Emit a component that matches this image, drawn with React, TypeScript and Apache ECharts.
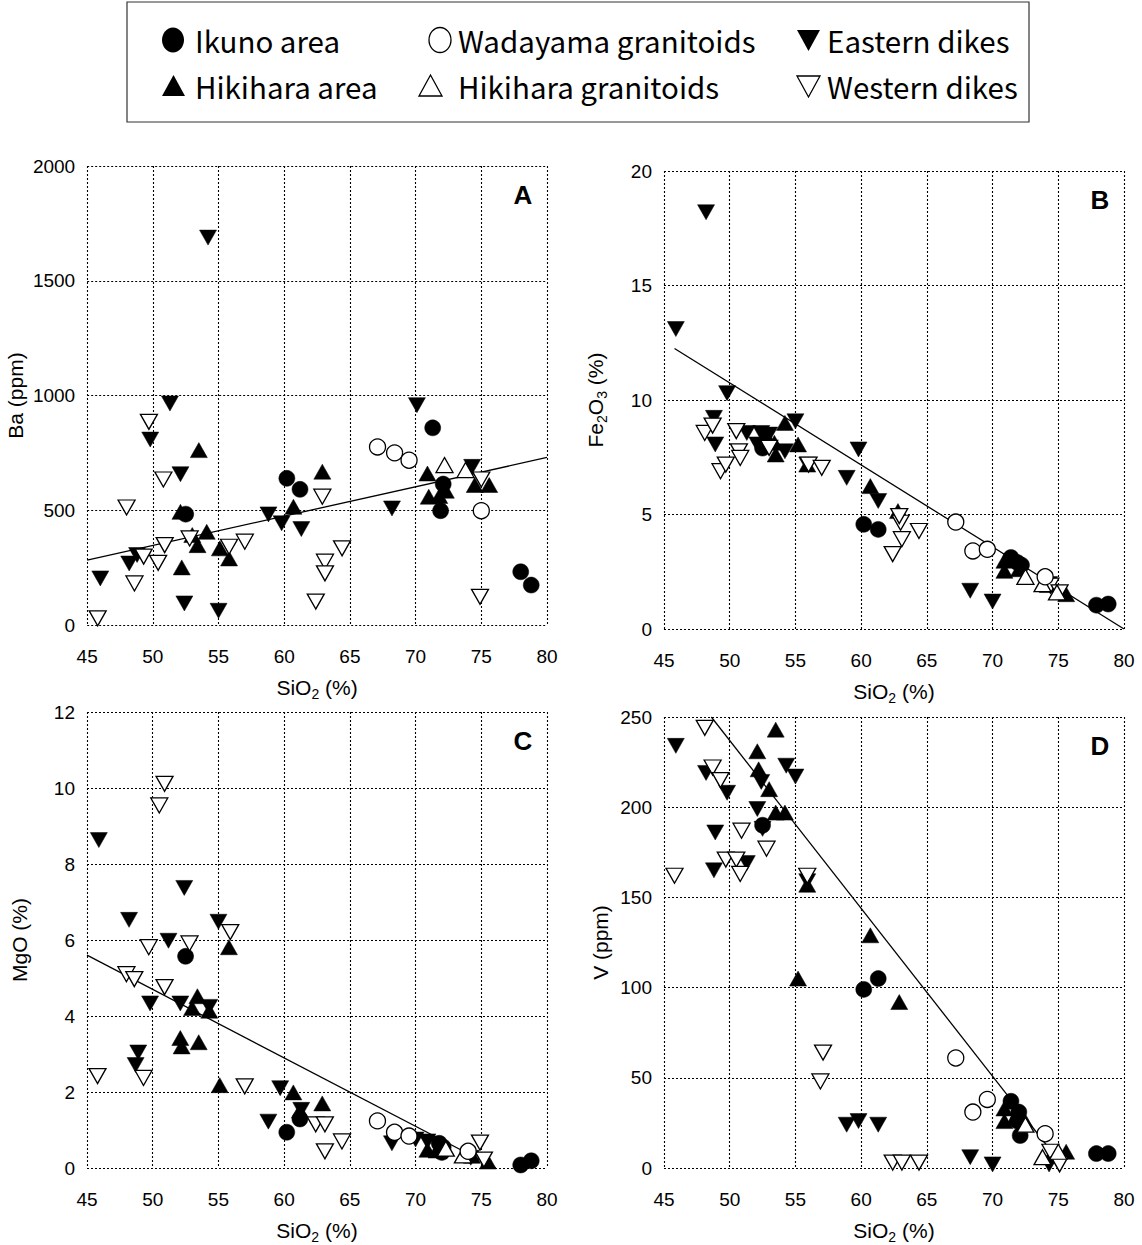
import React, { useEffect, useRef } from 'react';
import * as echarts from 'echarts';

// ---------- Panel A : Ba (ppm) ----------
const ikunoA = [[52.5,483],[60.2,639],[61.2,591],[71.3,859],[72.1,614],[71.9,498],[78.0,232],[78.8,174]];
const wadayamaA = [[67.1,776],[68.4,750],[69.5,718],[75.0,498]];
const easternA = [[54.2,1688],[51.3,965],[49.8,808],[52.1,657],[70.1,958],[46.0,203],[48.2,268],[48.8,305],[52.4,94],[55.0,62],[58.8,482],[59.8,443],[61.3,418],[68.2,508],[74.3,689]];
const hikiharaA = [[53.5,762],[62.9,668],[52.1,493],[60.7,515],[54.1,406],[53.0,392],[53.4,348],[55.1,334],[55.8,290],[52.2,251],[70.9,660],[71.0,559],[71.8,562],[72.3,585],[74.5,610],[75.6,610]];
const hikiharaGrA = [[72.2,697],[73.8,675]];
const westernA = [[49.7,885],[50.8,634],[48.0,512],[50.4,271],[50.9,348],[49.3,298],[48.6,181],[45.8,29],[52.8,377],[55.8,341],[57.0,363],[62.9,559],[63.1,276],[63.1,225],[62.4,102],[64.4,334],[75.0,634],[74.9,123]];
const fitA = [[45,283],[80,730]];

// ---------- Panel B : Fe2O3 (%) ----------
const ikunoB = [[60.2,4.57],[61.3,4.35],[52.5,7.9],[71.4,3.12],[71.9,2.9],[72.2,2.79],[77.9,1.04],[78.8,1.09]];
const wadayamaB = [[67.2,4.67],[68.5,3.41],[69.6,3.48],[74.0,2.28]];
const easternB = [[48.2,18.2],[45.9,13.1],[49.8,10.3],[48.8,9.22],[48.9,8.06],[51.3,8.56],[52.4,8.56],[53.0,8.49],[55.0,9.07],[54.2,7.76],[59.8,7.84],[58.9,6.6],[61.3,5.59],[55.9,7.18],[68.3,1.67],[70.0,1.2],[74.3,1.96],[52.1,8.06]];
const hikiharaB = [[54.2,9.0],[52.8,8.42],[53.4,8.13],[53.5,7.62],[55.2,8.06],[60.7,6.24],[62.8,5.15],[70.9,2.98],[70.9,2.54],[72.0,2.61],[75.6,1.52],[55.9,7.18],[74.2,1.92]];
const hikiharaGrB = [[72.5,2.28],[73.8,1.96],[74.9,1.6]];
const westernB = [[48.1,8.56],[48.7,8.88],[50.5,8.64],[50.7,7.76],[50.8,7.47],[49.3,6.89],[49.7,7.18],[53.0,7.91],[56.0,7.18],[57.0,7.04],[62.4,3.27],[63.1,3.92],[63.0,4.64],[62.9,4.93],[64.4,4.28],[74.4,1.89],[75.1,1.6]];
const fitB = [[45.8,12.25],[80,0]];

// ---------- Panel C : MgO (%) ----------
const ikunoC = [[52.5,5.57],[60.2,0.94],[61.2,1.29],[71.8,0.65],[72.0,0.41],[72.1,0.55],[78.0,0.08],[78.8,0.19]];
const wadayamaC = [[67.1,1.24],[68.4,0.94],[69.5,0.84],[74.0,0.44]];
const easternC = [[45.9,8.63],[48.2,6.53],[52.4,7.37],[55.0,6.48],[51.2,5.98],[49.8,4.33],[52.1,4.33],[54.3,4.24],[48.9,3.04],[48.7,2.71],[58.8,1.22],[59.7,2.1],[61.3,1.53],[68.2,0.65],[70.0,0.75],[74.2,0.27],[70.9,0.7]];
const hikiharaC = [[53.4,4.52],[53.0,4.21],[53.5,3.31],[52.1,3.42],[52.2,3.2],[55.1,2.18],[55.8,5.81],[54.3,4.14],[60.7,1.99],[62.9,1.7],[70.9,0.48],[71.6,0.46],[75.5,0.17],[74.3,0.32],[61.2,1.51]];
const hikiharaGrC = [[73.6,0.33],[72.3,0.51]];
const westernC = [[50.9,10.11],[50.5,9.54],[49.7,5.81],[52.8,5.91],[55.9,6.21],[48.0,5.1],[48.6,4.97],[50.9,4.76],[45.8,2.42],[49.3,2.37],[57.0,2.15],[62.4,1.15],[63.1,1.15],[63.1,0.44],[64.4,0.7],[74.9,0.67],[75.2,0.22]];
const fitC = [[45,5.6],[76.1,0]];

// ---------- Panel D : V (ppm) ----------
const ikunoD = [[52.5,190],[60.2,99],[61.3,105],[71.4,37],[72.0,31],[72.1,18],[71.9,26],[77.9,8],[78.8,8]];
const wadayamaD = [[67.2,61],[68.5,31],[69.6,38],[74.0,19]];
const easternD = [[45.9,234],[48.2,219],[49.8,208],[48.9,186],[48.8,165],[51.3,169],[52.1,199],[52.4,214],[52.5,188],[54.3,223],[55.0,217],[58.9,24],[59.8,26],[61.3,24],[68.3,6],[70.0,2],[74.3,2],[55.9,159]];
const hikiharaD = [[53.5,243],[52.1,231],[52.2,221],[53.0,210],[53.5,197],[54.2,197],[55.9,157],[55.2,105],[60.7,129],[62.9,92],[70.9,33],[70.9,26],[71.8,29],[72.4,27],[74.6,9],[75.6,9]];
const hikiharaGrD = [[72.5,24],[73.8,6],[75.0,9]];
const westernD = [[48.1,244],[48.7,222],[49.3,215],[50.9,187],[52.8,177],[49.7,171],[50.5,171],[50.8,163],[45.8,162],[55.9,162],[57.1,64],[56.9,48],[62.4,3],[63.1,3],[64.4,3],[74.4,9],[75.1,2]];
const fitD = [[48.6,250],[74.5,9]];

// ---------- axes ----------
const X_MIN = 45, X_MAX = 80, X_INT = 5;
const panelLetters = ['A', 'B', 'C', 'D'];
const yMaxes = [2000, 20, 12, 250];
const yIntervals = [500, 5, 2, 50];
const yNames = ['Ba (ppm)', 'Fe{sub|2}O{sub|3} (%)', 'MgO (%)', 'V (ppm)'];
const xName = 'SiO{sub|2} (%)';

const legendLabels = ['Ikuno area', 'Wadayama granitoids', 'Eastern dikes', 'Hikihara area', 'Hikihara granitoids', 'Western dikes'];

const panelData = [
  [ikunoA, wadayamaA, easternA, hikiharaA, hikiharaGrA, westernA, fitA],
  [ikunoB, wadayamaB, easternB, hikiharaB, hikiharaGrB, westernB, fitB],
  [ikunoC, wadayamaC, easternC, hikiharaC, hikiharaGrC, westernC, fitC],
  [ikunoD, wadayamaD, easternD, hikiharaD, hikiharaGrD, westernD, fitD],
];

// layout (pixels)
const GRIDS = [
  { left: 87, top: 166, width: 460, height: 459 },
  { left: 664, top: 171, width: 460, height: 458 },
  { left: 87, top: 712, width: 460, height: 460 },
  { left: 664, top: 717, width: 460, height: 458 },
];
const yNameGaps = [55, 55, 54, 50];

const TICK_FONT = 'Liberation Sans';
const LEG_FONT = 'Noto Sans CJK JP';

const symbolStyles = [
  { symbol: 'circle', size: 16, filled: true, rotate: 0 },
  { symbol: 'circle', size: 16, filled: false, rotate: 0 },
  { symbol: 'triangle', size: [17, 15], filled: true, rotate: 180 },
  { symbol: 'triangle', size: [17, 15], filled: true, rotate: 0 },
  { symbol: 'triangle', size: [17, 15], filled: false, rotate: 0 },
  { symbol: 'triangle', size: [17, 15], filled: false, rotate: 180 },
];
const drawOrder = [3, 2, 0, 5, 4, 1];

function buildOption() {
  const grid = GRIDS.map((g) => ({ ...g, containLabel: false }));
  const gridLine = { show: true, lineStyle: { color: '#000', width: 1.1, type: [2, 2] } };
  const rich = {
    sub: { fontSize: 14, lineHeight: 14, verticalAlign: 'bottom', fontFamily: TICK_FONT, color: '#000' },
  };
  const fmt = (v: number) => String(v);
  const xAxis = GRIDS.map((_, i) => ({
    type: 'value', gridIndex: i, min: X_MIN, max: X_MAX, interval: X_INT,
    axisLine: { show: false }, axisTick: { show: false },
    axisLabel: { fontSize: 19, color: '#000', margin: 22, fontFamily: TICK_FONT, formatter: fmt },
    splitLine: gridLine,
    name: xName, nameLocation: 'middle', nameGap: 48,
    nameTextStyle: { fontSize: 21, lineHeight: 28, color: '#000', fontFamily: TICK_FONT, rich },
  }));
  const yAxis = GRIDS.map((_, i) => ({
    type: 'value', gridIndex: i, min: 0, max: yMaxes[i], interval: yIntervals[i],
    axisLine: { show: false }, axisTick: { show: false },
    axisLabel: { fontSize: 19, color: '#000', margin: 12, fontFamily: TICK_FONT, formatter: fmt },
    splitLine: gridLine,
    name: yNames[i], nameLocation: 'middle', nameGap: yNameGaps[i],
    nameTextStyle: { fontSize: 21, lineHeight: 28, color: '#000', fontFamily: TICK_FONT, rich },
  }));

  const series: any[] = [];
  panelData.forEach((arrs, p) => {
    series.push({
      type: 'line', xAxisIndex: p, yAxisIndex: p, data: arrs[6], symbol: 'none',
      lineStyle: { color: '#000', width: 1.3 }, z: 2, silent: true,
    });
    drawOrder.forEach((k) => {
      const s = symbolStyles[k];
      series.push({
        type: 'scatter', name: legendLabels[k], xAxisIndex: p, yAxisIndex: p, data: arrs[k],
        symbol: s.symbol, symbolSize: s.size, symbolRotate: s.rotate,
        itemStyle: s.filled
          ? { color: '#000', borderColor: '#000', borderWidth: 0.5, opacity: 1 }
          : { color: '#fff', borderColor: '#000', borderWidth: 1.3, opacity: 1 },
        z: 3, silent: true,
      });
    });
  });

  const graphic: any[] = [];
  // panel letters
  GRIDS.forEach((g, i) => {
    graphic.push({
      type: 'text', x: g.left + g.width - 24, y: g.top + 29,
      style: { text: panelLetters[i], fontSize: 26, fontWeight: 'bold', fontFamily: TICK_FONT, fill: '#000', align: 'center', verticalAlign: 'middle', textAlign: 'center', textVerticalAlign: 'middle' },
    });
  });
  // legend box
  graphic.push({ type: 'rect', shape: { x: 127, y: 2, width: 902, height: 120 }, style: { fill: '#fff', stroke: '#333', lineWidth: 1.2 } });
  const rowY = [40, 86];
  const textX = [195, 458, 827];
  const markX = [173, 440, 808];
  graphic.push({ type: 'ellipse', shape: { cx: markX[0], cy: rowY[0], rx: 11, ry: 12.5 }, style: { fill: '#000' } });
  graphic.push({ type: 'ellipse', shape: { cx: markX[1], cy: rowY[0], rx: 11, ry: 12.5 }, style: { fill: '#fff', stroke: '#000', lineWidth: 1.3 } });
  graphic.push({ type: 'polygon', shape: { points: [[797, 30], [820, 30], [808.5, 51]] }, style: { fill: '#000' } });
  graphic.push({ type: 'polygon', shape: { points: [[162, 96], [185, 96], [173.5, 75]] }, style: { fill: '#000' } });
  graphic.push({ type: 'polygon', shape: { points: [[419, 96], [442, 96], [430.5, 75]] }, style: { fill: '#fff', stroke: '#000', lineWidth: 1.3 } });
  graphic.push({ type: 'polygon', shape: { points: [[797, 76], [820, 76], [808.5, 97]] }, style: { fill: '#fff', stroke: '#000', lineWidth: 1.3 } });
  legendLabels.forEach((lab, k) => {
    const row = k < 3 ? 0 : 1;
    const col = k % 3;
    graphic.push({
      type: 'text', x: textX[col], y: rowY[row],
      style: { text: lab, fontSize: 29.5, fontFamily: LEG_FONT, fill: '#000', align: 'left', verticalAlign: 'middle', textAlign: 'left', textVerticalAlign: 'middle' },
    });
  });

  return { animation: false, backgroundColor: '#fff', grid, xAxis, yAxis, series, graphic };
}

export default function App() {
  const ref = useRef<HTMLDivElement>(null);
  useEffect(() => {
    if (!ref.current) return;
    const chart = echarts.init(ref.current, undefined, { renderer: 'svg' });
    chart.setOption(buildOption() as any);
    return () => chart.dispose();
  }, []);
  return <div ref={ref} style={{ position: 'absolute', left: 0, top: 0, width: 1142, height: 1245 }} />;
}
